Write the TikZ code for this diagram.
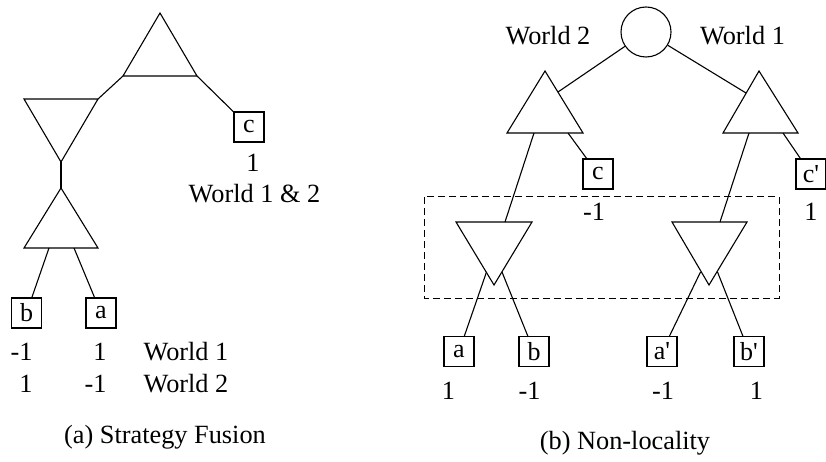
\documentclass[tikz,border=0pt]{standalone}
\usepackage{fontspec}
\setmainfont{Liberation Serif}
\newcommand{\pr}{\textquotesingle}
\begin{document}
\begin{tikzpicture}[x=1pt,y=-1pt,line width=1.1pt,line join=miter,
  leaf/.style={draw,rectangle,minimum width=30pt,minimum height=30pt,inner sep=0pt,
    font=\fontsize{26}{28}\selectfont},
  chance/.style={draw,circle,minimum size=50pt,inner sep=0pt},
  lbl/.style={inner sep=0pt,font=\fontsize{26.3}{30}\selectfont},
  infoset/.style={line width=1pt,dash pattern=on 7pt off 4pt}]
\useasboundingbox (0,0) rectangle (826,462);

% ---------------- (a) Strategy Fusion ----------------
% max node at the root
\coordinate (t1a) at (160,13);
\coordinate (t1l) at (123,76);
\coordinate (t1r) at (197,76);
\draw (t1a) -- (t1l) -- (t1r) -- cycle;
% min node
\coordinate (m1l) at (24,99);
\coordinate (m1r) at (98,99);
\coordinate (m1a) at (61,162);
\draw (m1l) -- (m1r) -- (m1a) -- cycle;
% lower max node
\coordinate (t2a) at (61,188);
\coordinate (t2l) at (24,248);
\coordinate (t2r) at (98,248);
\draw (t2a) -- (t2l) -- (t2r) -- cycle;
\coordinate (t2p) at (49,248);
\coordinate (t2q) at (74,248);
% leaves
\node[leaf] (lb) at (26.5,313) {b};
\node[leaf] (la) at (101,313) {a};
\node[leaf] (lc) at (249,127) {c};
% edges
\draw (t1l) -- (m1r);
\draw (t1r) -- (lc);
\draw (m1a) -- (t2a);
\draw (t2p) -- (lb);
\draw (t2q) -- (la);
% payoffs
\node[lbl,anchor=base] (lcv) at (253,172) {1};
\node[lbl,anchor=base] (lcw) at (254.5,203) {World 1 \& 2};
\node[lbl,anchor=base east] (lbv1) at (33,360) {-1};
\node[lbl,anchor=base east] (lav1) at (107,360) {1};
\node[lbl,anchor=base west] (lw1) at (143,360) {World 1};
\node[lbl,anchor=base east] (lbv2) at (33,392) {1};
\node[lbl,anchor=base east] (lav2) at (107,392) {-1};
\node[lbl,anchor=base west] (lw2) at (143,392) {World 2};
\node[lbl,anchor=base] (capa) at (165,443) {(a) Strategy Fusion};

% ---------------- (b) Non-locality ----------------
\node[chance] (root) at (646,32) {};
\node[lbl,anchor=base] (w2) at (548,45) {World 2};
\node[lbl,anchor=base] (w1) at (742.5,45) {World 1};
% max nodes
\coordinate (xla) at (545,71);
\coordinate (xll) at (507,133);
\coordinate (xlr) at (583,133);
\draw (xla) -- (xll) -- (xlr) -- cycle;
\coordinate (xra) at (759,71);
\coordinate (xrl) at (723,133);
\coordinate (xrr) at (798,133);
\draw (xra) -- (xrl) -- (xrr) -- cycle;
\coordinate (xlin) at (558,92);
\coordinate (xrin) at (746,93);
\coordinate (xlp) at (534,133);
\coordinate (xlq) at (568,133);
\coordinate (xrp) at (749,133);
\coordinate (xrq) at (783,133);
% min nodes
\coordinate (nll) at (456,222);
\coordinate (nlr) at (532,222);
\coordinate (nla) at (494,285);
\draw (nll) -- (nlr) -- (nla) -- cycle;
\coordinate (nrl) at (672,222);
\coordinate (nrr) at (747,222);
\coordinate (nra) at (709,285);
\draw (nrl) -- (nrr) -- (nra) -- cycle;
\coordinate (nlin) at (505,222);
\coordinate (nrin) at (720,222);
\coordinate (nlp) at (486.5,272);
\coordinate (nlq) at (502,272);
\coordinate (nrp) at (700.5,272);
\coordinate (nrq) at (717.5,272);
% leaves
\node[leaf] (rc) at (598,174) {c};
\node[leaf] (rcp) at (811,174) {c\pr};
\node[leaf] (ra) at (459,351.5) {a};
\node[leaf] (rb) at (534,351.5) {b};
\node[leaf] (rap) at (662,351.5) {a\pr};
\node[leaf] (rbp) at (749,351.5) {b\pr};
% edges
\draw (root) -- (xlin);
\draw (root) -- (xrin);
\draw (xlp) -- (nlin);
\draw (xlq) -- (rc);
\draw (xrp) -- (nrin);
\draw (xrq) -- (rcp);
\draw (nlp) -- (ra);
\draw (nlq) -- (rb);
\draw (nrp) -- (rap);
\draw (nrq) -- (rbp);
% information set
\draw[infoset] (424,197) rectangle (779,298);
% payoffs
\node[lbl,anchor=base] (rcv) at (594,220) {-1};
\node[lbl,anchor=base] (rcpv) at (811,220) {1};
\node[lbl,anchor=base] (rav) at (448.5,399) {1};
\node[lbl,anchor=base] (rbv) at (529.5,399) {-1};
\node[lbl,anchor=base] (rapv) at (663,399) {-1};
\node[lbl,anchor=base] (rbpv) at (756.5,399) {1};
\node[lbl,anchor=base] (capb) at (625,449) {(b) Non-locality};
\end{tikzpicture}
\end{document}
